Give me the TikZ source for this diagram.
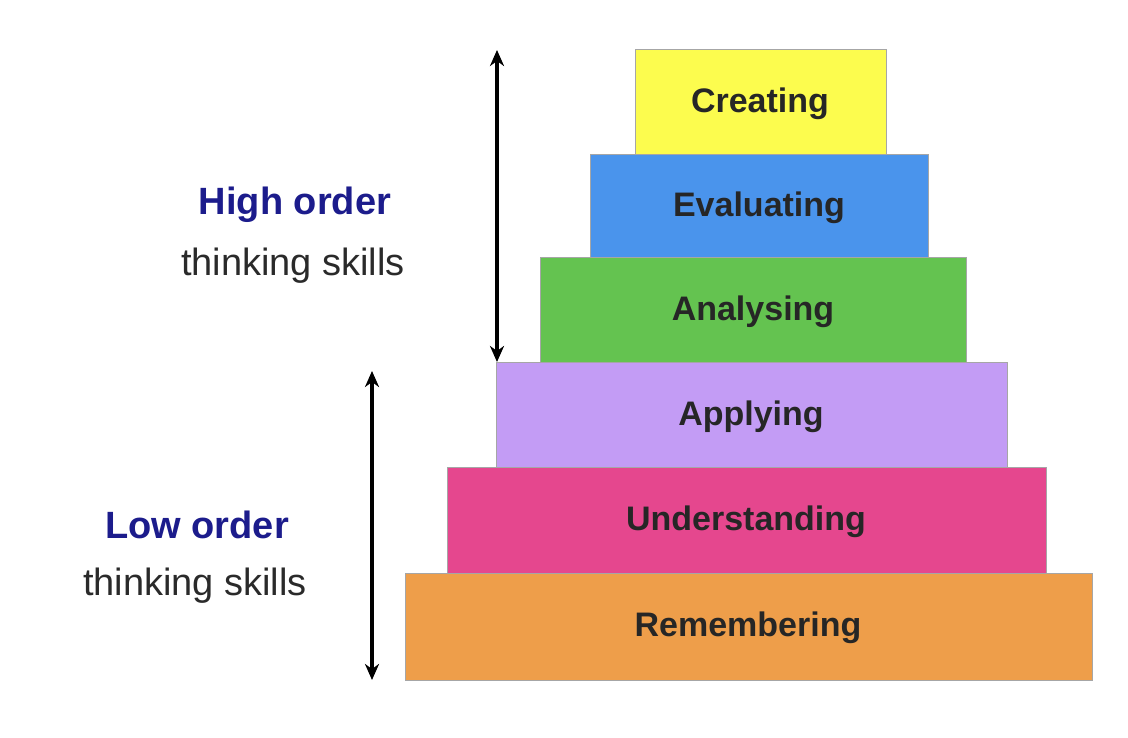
\documentclass[tikz,border=0pt]{standalone}
\usepackage{fontspec}
\setmainfont{Liberation Sans}
\usetikzlibrary{arrows.meta}
\definecolor{cY}{HTML}{FCFC4E}
\definecolor{cB}{HTML}{4A94EC}
\definecolor{cG}{HTML}{64C350}
\definecolor{cL}{HTML}{C39CF5}
\definecolor{cP}{HTML}{E5478E}
\definecolor{cO}{HTML}{EE9E4A}
\definecolor{navy}{HTML}{1C1C8C}
\definecolor{txt}{HTML}{2A2A2A}
\tikzset{
 lvl/.style={draw=gray!70,line width=1pt},
 lbl/.style={font=\fontsize{34}{40}\selectfont\bfseries,text=black!85},
 dbl/.style={line width=3.5pt,{Stealth[length=16pt,width=14pt,inset=5pt]}-{Stealth[length=16pt,width=14pt,inset=5pt]}},
 hd/.style={font=\fontsize{38}{44}\selectfont\bfseries,text=navy},
 sub/.style={font=\fontsize{38}{44}\selectfont,text=txt}
}
\begin{document}
\begin{tikzpicture}[x=1pt,y=-1pt]
\useasboundingbox[fill=white] (0,0) rectangle (1128,738);
\draw[lvl,fill=cY] (635,50) rectangle (886,155);
\draw[lvl,fill=cB] (590,155) rectangle (928,258);
\draw[lvl,fill=cG] (540,258) rectangle (966,362);
\draw[lvl,fill=cL] (496,362) rectangle (1007,467);
\draw[lvl,fill=cP] (447,467) rectangle (1046,573);
\draw[lvl,fill=cO] (405,573) rectangle (1092,680);
\node[lbl] (c) at (760,104) {Creating};
\node[lbl] (e) at (759,208) {Evaluating};
\node[lbl] (a) at (753,312) {Analysing};
\node[lbl] (p) at (751,417) {Applying};
\node[lbl] (u) at (746,522) {Understanding};
\node[lbl] (r) at (748,628) {Remembering};
\coordinate (h1) at (497,50); \coordinate (h2) at (497,362);
\coordinate (l1) at (372,371); \coordinate (l2) at (372,680);
\draw[dbl] (h1) -- (h2);
\draw[dbl] (l1) -- (l2);
\node[hd] (ho) at (295,205) {High order};
\node[sub] (hs) at (293,266) {thinking skills};
\node[hd] (lo) at (197,525) {Low order};
\node[sub] (ls) at (195,586) {thinking skills};
\end{tikzpicture}
\end{document}
